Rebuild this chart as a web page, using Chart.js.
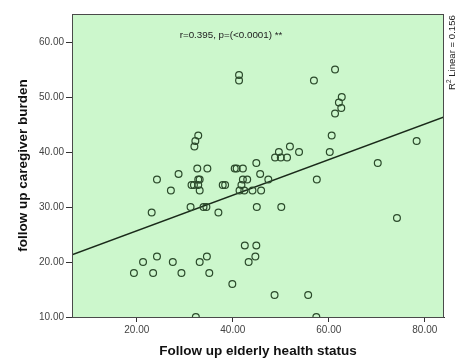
<!DOCTYPE html>
<html>
<head>
<meta charset="utf-8">
<script src="https://cdn.jsdelivr.net/npm/chart.js@4.4.1/dist/chart.umd.min.js"></script>
<style>
  html, body { margin: 0; padding: 0; background: #fff; }
  #wrap { width: 466px; height: 358px; }
</style>
</head>
<body>
<div id="wrap"><canvas id="c" width="466" height="358"></canvas></div>
<script>
// datos (salud del anciano vs carga del cuidador)
const healthStatus = [19.4, 21.3, 24.2, 23.4, 23.1, 24.2, 27.5, 27.1, 28.7, 29.3,
  31.2, 31.4, 31.9, 32.8, 32.8, 33.1, 33.1, 32.6, 34.7, 32.8,
  32.2, 32.0, 33.1, 34.6, 35.1, 32.3, 33.9, 34.5, 37.0, 37.9,
  38.4, 39.9, 40.4, 40.8, 42.1, 41.3, 41.3, 42.1, 43.0, 41.8,
  41.4, 42.4, 44.1, 45.9, 45.7, 44.9, 47.4, 45.0, 50.1, 42.5,
  44.9, 44.7, 43.3, 48.7, 48.8, 50.0, 51.3, 49.6, 51.9, 53.8,
  55.7, 56.9, 57.5, 57.4, 60.2, 60.6, 61.3, 61.3, 62.1, 62.7,
  62.6, 70.2, 74.2, 78.3];
const caregiverBurden = [18, 20, 21, 18, 29, 35, 20, 33, 36, 18,
  30, 34, 34, 34, 35, 35, 33, 37, 37, 43,
  42, 41, 20, 21, 18, 10, 30, 30, 29, 34,
  34, 16, 37, 37, 37, 54, 53, 35, 35, 34,
  33, 33, 33, 33, 36, 38, 35, 30, 30, 23,
  23, 21, 20, 14, 39, 39, 39, 40, 41, 40,
  14, 53, 35, 10, 40, 43, 55, 47, 49, 50,
  48, 38, 28, 42];

const xTicks = [20, 40, 60, 80];
const yTicks = [10, 20, 30, 40, 50, 60];
const xRange = [6.5, 84];
const yRange = [10, 65.1];

const statsLabel = 'r=0.395, p=(<0.0001) **';
const r2Label = ' Linear = 0.156';
const xTitle = 'Follow up elderly health status';
const yTitle = 'follow up caregiver burden';

// recta de minimos cuadrados calculada desde los datos
function ajusteLineal(xs, ys) {
  const n = xs.length;
  const mx = xs.reduce((a, b) => a + b, 0) / n;
  const my = ys.reduce((a, b) => a + b, 0) / n;
  let sxy = 0, sxx = 0;
  for (let i = 0; i < n; i++) {
    sxy += (xs[i] - mx) * (ys[i] - my);
    sxx += (xs[i] - mx) * (xs[i] - mx);
  }
  const b = sxy / sxx;
  return { b, a: my - b * mx };
}
const fit = ajusteLineal(healthStatus, caregiverBurden);

const FONT = "'Liberation Sans', Arial, sans-serif";

const marcoPlugin = {
  id: 'marco',
  beforeDraw(chart) {
    const { ctx, chartArea: ca } = chart;
    ctx.save();
    ctx.fillStyle = '#ccf7cc';
    ctx.fillRect(ca.left, ca.top, ca.right - ca.left, ca.bottom - ca.top);
    ctx.restore();
  },
  afterDraw(chart) {
    const { ctx, chartArea: ca } = chart;
    ctx.save();
    // marco del area
    ctx.strokeStyle = '#4a4a4a';
    ctx.lineWidth = 1;
    ctx.strokeRect(ca.left + 0.5, ca.top + 0.5, ca.right - ca.left - 1, ca.bottom - ca.top);

    // titulos de ejes
    ctx.fillStyle = '#111';
    ctx.font = 'bold 13.5px ' + FONT;
    ctx.textAlign = 'center';
    ctx.textBaseline = 'middle';
    ctx.fillText(xTitle, (ca.left + ca.right) / 2, 351);
    ctx.save();
    ctx.translate(23, (ca.top + ca.bottom) / 2);
    ctx.rotate(-Math.PI / 2);
    ctx.fillText(yTitle, 0, 0);
    ctx.restore();

    // texto de correlacion
    ctx.font = '9.8px ' + FONT;
    ctx.fillStyle = '#222';
    ctx.fillText(statsLabel, 231, 35);

    // R2 vertical a la derecha
    ctx.save();
    ctx.translate(452, 90);
    ctx.rotate(-Math.PI / 2);
    ctx.textAlign = 'left';
    ctx.font = '9.6px ' + FONT;
    ctx.fillText('R', 0, 0);
    let w = ctx.measureText('R').width;
    ctx.font = '6.5px ' + FONT;
    ctx.fillText('2', w, -3);
    w += ctx.measureText('2').width;
    ctx.font = '9.6px ' + FONT;
    ctx.fillText(r2Label, w, 0);
    ctx.restore();
    ctx.restore();
  }
};

const puntos = healthStatus.map((x, i) => ({ x, y: caregiverBurden[i] }));
const linea = xRange.map(x => ({ x, y: fit.a + fit.b * x }));

new Chart(document.getElementById('c').getContext('2d'), {
  type: 'scatter',
  data: {
    datasets: [
      {
        data: puntos,
        pointStyle: 'circle',
        pointRadius: 3.4,
        pointBorderWidth: 1.2,
        pointBackgroundColor: 'rgba(0,0,0,0)',
        pointBorderColor: '#2b4a2b'
      },
      {
        type: 'line',
        data: linea,
        borderColor: '#1a2a1a',
        borderWidth: 1.4,
        pointRadius: 0,
        fill: false
      }
    ]
  },
  options: {
    responsive: false,
    animation: false,
    layout: { padding: { top: 14, right: 22, left: 0, bottom: 0 } },
    plugins: { legend: { display: false }, tooltip: { enabled: false } },
    scales: {
      x: {
        type: 'linear',
        min: xRange[0], max: xRange[1],
        afterBuildTicks: s => { s.ticks = xTicks.map(v => ({ value: v })); },
        afterFit: s => { s.height = 41; },
        grid: { drawOnChartArea: false, tickLength: 5, color: '#333', tickWidth: 1 },
        border: { display: true, color: '#333', width: 1 },
        ticks: {
          color: '#444', padding: 2,
          font: { family: FONT, size: 10 },
          callback: v => Number(v).toFixed(2)
        }
      },
      y: {
        type: 'linear',
        min: yRange[0], max: yRange[1],
        afterBuildTicks: s => { s.ticks = yTicks.map(v => ({ value: v })); },
        afterFit: s => { s.width = 72; },
        grid: { drawOnChartArea: false, tickLength: 6, color: '#333', tickWidth: 1 },
        border: { display: true, color: '#333', width: 1 },
        ticks: {
          color: '#444', padding: 2,
          font: { family: FONT, size: 10 },
          callback: v => Number(v).toFixed(2)
        }
      }
    }
  },
  plugins: [marcoPlugin]
});
</script>
</body>
</html>
